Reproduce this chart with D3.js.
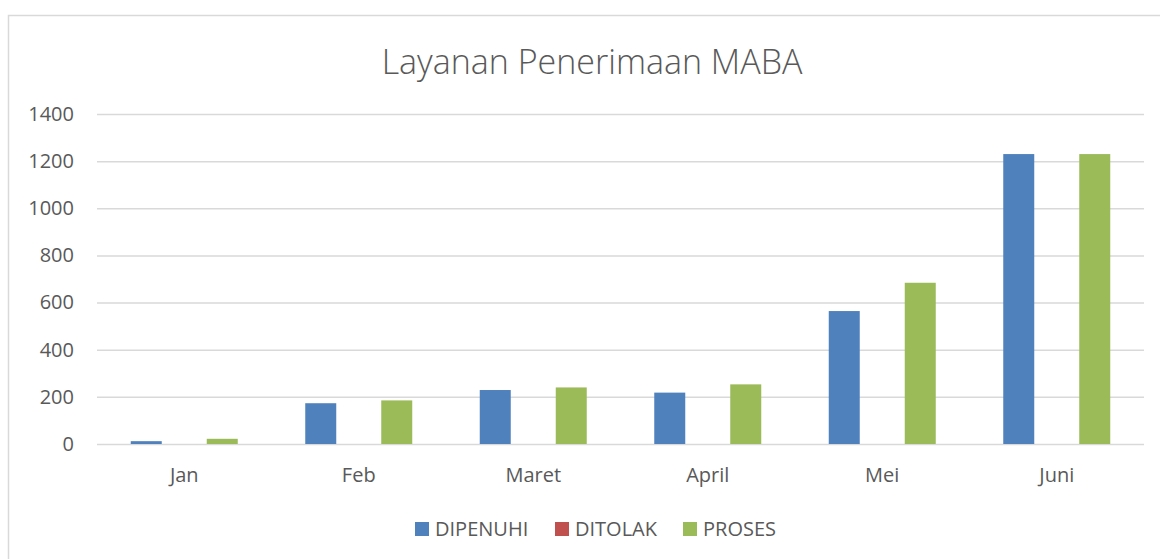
<!DOCTYPE html>
<html lang="id">
<head>
	<meta charset="UTF-8">
	<title>Layanan Penerimaan MABA</title>
	<script src="https://cdn.jsdelivr.net/npm/d3@7"></script>
	<style>
		body { margin: 0; background: #fff; }
		svg text { font-family: "Open Sans", sans-serif; fill: #595959; }
	</style>
</head>
<body>
<div id="viz"></div>
<script>
	var months = ['Jan', 'Feb', 'Maret', 'April', 'Mei', 'Juni'];
	var seriesNames = ['DIPENUHI', 'DITOLAK', 'PROSES'];
	var dipenuhi = [12, 173, 229, 218, 564, 1230];
	var ditolak = [0, 0, 0, 0, 0, 0];
	var proses = [22, 185, 240, 253, 684, 1230];
	var yTicks = [0, 200, 400, 600, 800, 1000, 1200, 1400];
	var colors = ['#4f81bd', '#c0504d', '#9bbb59'];

	var W = 1160, H = 559;
	var plot = {left: 97, right: 1144, top: 114, bottom: 444};

	var svg = d3.select('#viz').append('svg')
		.attr('width', W)
		.attr('height', H);

	// chart frame
	svg.append('rect')
		.attr('x', 8.5).attr('y', 15.5)
		.attr('width', W).attr('height', H)
		.attr('fill', '#fff')
		.attr('stroke', '#d9d9d9')
		.attr('stroke-width', 1.5);

	svg.append('text')
		.attr('x', 592).attr('y', 74)
		.attr('text-anchor', 'middle')
		.style('font-size', '34px')
		.style('font-weight', 300)
		.text('Layanan Penerimaan MABA');

	var x = d3.scaleBand()
		.domain(months)
		.range([plot.left, plot.right]);

	var xs = d3.scalePoint()
		.domain(seriesNames)
		.range([-38, 38]);

	var y = d3.scaleLinear()
		.domain([0, 1400])
		.range([plot.bottom, plot.top]);

	// gridlines + y labels
	var yAxis = d3.axisLeft(y)
		.tickValues(yTicks)
		.tickFormat(d3.format('d'))
		.tickSize(-(plot.right - plot.left))
		.tickPadding(23);

	var gy = svg.append('g')
		.attr('transform', 'translate(' + plot.left + ',0)')
		.call(yAxis);
	gy.select('.domain').remove();
	gy.selectAll('line').attr('stroke', '#d9d9d9').attr('stroke-width', 1.5);
	gy.selectAll('text').style('font-size', '20px').attr('fill', '#595959');

	var xAxis = d3.axisBottom(x).tickSize(0).tickPadding(24);
	var gx = svg.append('g')
		.attr('transform', 'translate(0,' + plot.bottom + ')')
		.call(xAxis);
	gx.select('.domain').remove();
	gx.selectAll('text').style('font-size', '20px').attr('fill', '#595959');

	var seriesData = [dipenuhi, ditolak, proses];
	var barW = 31;

	seriesNames.forEach(function (name, si) {
		svg.append('g')
			.selectAll('rect')
			.data(seriesData[si])
			.enter().append('rect')
			.attr('x', function (d, i) { return x(months[i]) + x.bandwidth() / 2 + xs(name) - barW / 2; })
			.attr('y', function (d) { return y(d); })
			.attr('width', barW)
			.attr('height', function (d) { return y(0) - y(d); })
			.attr('fill', colors[si]);
	});

	// legend
	var legendX = [415, 555, 683];
	var legend = svg.append('g');
	seriesNames.forEach(function (name, i) {
		legend.append('rect')
			.attr('x', legendX[i]).attr('y', 522)
			.attr('width', 14).attr('height', 14)
			.attr('fill', colors[i]);
		legend.append('text')
			.attr('x', legendX[i] + 20).attr('y', 536)
			.style('font-size', '20px')
			.text(name);
	});
</script>
</body>
</html>
